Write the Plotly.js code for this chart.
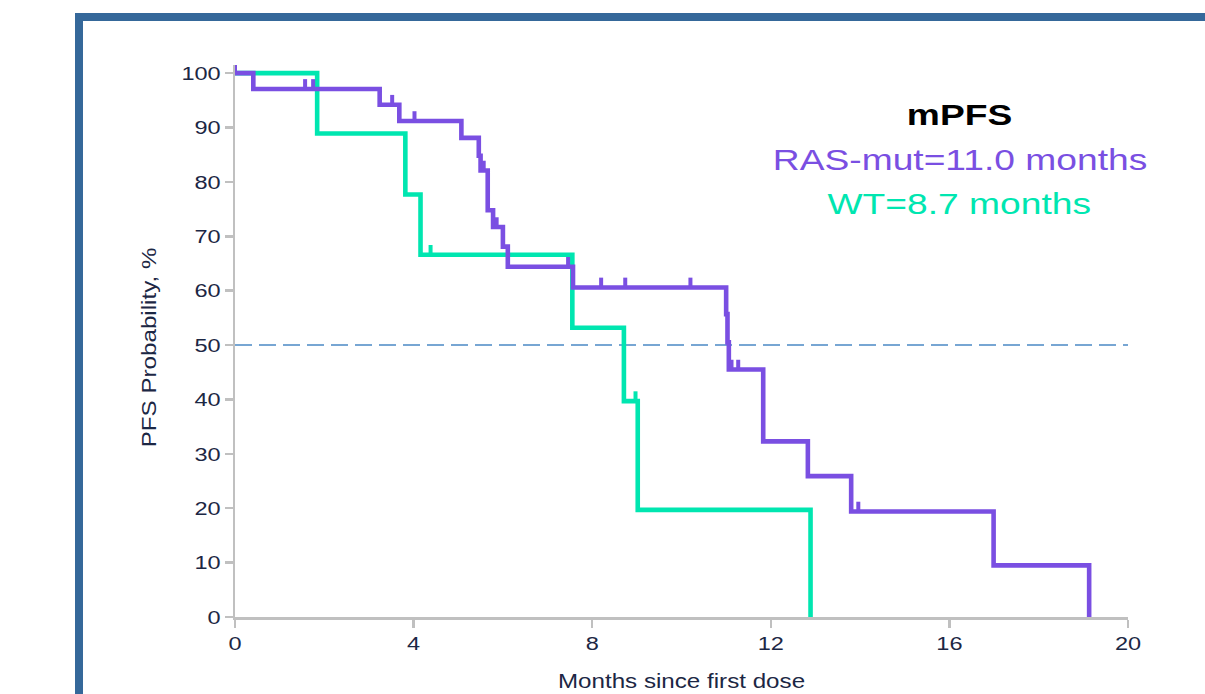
<!DOCTYPE html>
<html>
<head>
<meta charset="utf-8">
<script src="https://cdn.plot.ly/plotly-3.0.1.min.js"></script>
<style>
html,body{margin:0;padding:0;background:#fff;overflow:hidden}
#chart{width:1205px;height:694px}
</style>
</head>
<body>
<div id="chart"></div>
<script>
// ---- data ----
const rasTimes  = [0.41, 3.24, 3.68, 5.07, 5.46, 5.50, 5.66, 5.78, 6.00, 6.11, 7.57, 11.00, 11.03, 11.06, 11.83, 12.83, 13.80, 16.99, 19.13];
const rasSurv   = [97.1, 94.2, 91.2, 88.1, 84.8, 82.1, 74.8, 71.7, 68.1, 64.4, 60.6, 55.7, 50.5, 45.5, 32.3, 25.9, 19.4, 9.5, 0];
const rasCensor = [0, 1.57, 1.75, 3.52, 4.02, 5.57, 5.86, 7.46, 8.20, 8.74, 10.20, 11.12, 11.27, 13.96];

const wtTimes  = [1.84, 3.815, 4.155, 7.555, 8.71, 9.02, 12.89];
const wtSurv   = [88.9, 77.7, 66.6, 53.2, 39.7, 19.7, 0];
const wtCensor = [4.38, 8.97];

const xTickVals = [0, 4, 8, 12, 16, 20];
const yTickVals = [0, 10, 20, 30, 40, 50, 60, 70, 80, 90, 100];
const medianLevel = 50;

const legendTitle = 'mPFS';
const rasLabel = 'RAS-mut=11.0 months';
const wtLabel = 'WT=8.7 months';
const xTitle = 'Months since first dose';
const yTitle = 'PFS Probability, %';

// ---- styling ----
const PURPLE = '#7a4fe2';
const GREEN = '#00e6b0';
const AXIS = '#c0c0c0';
const TEXT = '#1c2744';
const FRAME = '#35689a';
const FONT = '"Liberation Sans", Arial, Helvetica, sans-serif';
const STRETCH = 1.24;
const CENSOR_H = 1.8;

function stepTrace(times, surv, color) {
  return {
    type: 'scatter', mode: 'lines',
    x: [0].concat(times), y: [100].concat(surv),
    line: {shape: 'hv', color: color, width: 4.6},
    hoverinfo: 'skip', showlegend: false
  };
}
function survAt(times, surv, t) {
  let s = 100;
  for (let i = 0; i < times.length; i++) { if (times[i] <= t) s = surv[i]; }
  return s;
}
function censorTrace(cens, times, surv, color) {
  const x = [], y = [];
  cens.forEach(c => {
    const s = survAt(times, surv, c);
    x.push(c, c, null); y.push(s, s + CENSOR_H, null);
  });
  return {
    type: 'scatter', mode: 'lines', x: x, y: y,
    line: {color: color, width: 4}, hoverinfo: 'skip', showlegend: false
  };
}

const traces = [
  stepTrace(wtTimes, wtSurv, GREEN),
  censorTrace(wtCensor, wtTimes, wtSurv, GREEN),
  stepTrace(rasTimes, rasSurv, PURPLE),
  censorTrace(rasCensor, rasTimes, rasSurv, PURPLE)
];

// frame (paper coordinates derived from the pixel layout)
const L = 235, R = 1128, T = 65, B = 617;
const px = v => (v - L) / (R - L);
const py = v => (B - v) / (B - T);

const layout = {
  width: 1205, height: 694,
  margin: {l: L, r: 1205 - R, t: T, b: 694 - B},
  paper_bgcolor: '#ffffff', plot_bgcolor: '#ffffff',
  font: {family: FONT, color: TEXT},
  showlegend: false,
  xaxis: {
    range: [0, 20], tickvals: xTickVals, ticktext: xTickVals.map(String),
    ticks: 'outside', ticklen: 8, tickwidth: 2.5, tickcolor: AXIS,
    showline: true, linecolor: AXIS, linewidth: 2.5,
    showgrid: false, zeroline: false,
    tickfont: {size: 19, color: TEXT, family: FONT},
    title: {text: xTitle, font: {size: 19.5, color: TEXT, family: FONT}, standoff: 21}
  },
  yaxis: {
    range: [0, 101.5], tickvals: yTickVals, ticktext: yTickVals.map(String),
    ticks: 'outside', ticklen: 8, tickwidth: 2.5, tickcolor: AXIS,
    showline: true, linecolor: AXIS, linewidth: 2.5,
    showgrid: false, zeroline: false,
    tickfont: {size: 19, color: TEXT, family: FONT}
  },
  shapes: [
    {type: 'line', xref: 'x', yref: 'y', x0: 0, x1: 20, y0: medianLevel, y1: medianLevel,
     line: {color: '#77a6d3', width: 2, dash: '17px,7px'}, layer: 'below'},
    {type: 'rect', xref: 'paper', yref: 'paper', x0: px(75), x1: px(83), y0: py(710), y1: py(13),
     fillcolor: FRAME, line: {width: 0}, layer: 'below'},
    {type: 'rect', xref: 'paper', yref: 'paper', x0: px(75), x1: px(1215), y0: py(21), y1: py(13),
     fillcolor: FRAME, line: {width: 0}, layer: 'below'}
  ],
  annotations: [
    {xref: 'paper', yref: 'paper', x: px(149), y: py(348), xanchor: 'center', yanchor: 'middle',
     textangle: -90, text: yTitle, showarrow: false, font: {size: 19.5, color: TEXT, family: FONT}},
    {xref: 'paper', yref: 'paper', x: px(959), y: py(115), xanchor: 'center', yanchor: 'middle',
     text: '<b>' + legendTitle + '</b>', showarrow: false, font: {size: 30, color: '#000000', family: FONT}},
    {xref: 'paper', yref: 'paper', x: px(960), y: py(159), xanchor: 'center', yanchor: 'middle',
     text: rasLabel, showarrow: false, font: {size: 30, color: PURPLE, family: FONT}},
    {xref: 'paper', yref: 'paper', x: px(959), y: py(203), xanchor: 'center', yanchor: 'middle',
     text: wtLabel, showarrow: false, font: {size: 30, color: GREEN, family: FONT}}
  ]
};

const gd = document.getElementById('chart');
Plotly.newPlot(gd, traces, layout, {staticPlot: true, displayModeBar: false, responsive: false}).then(() => {
  // the reference text is horizontally stretched; widen each text around its anchor
  gd.querySelectorAll('text').forEach(el => {
    const x = parseFloat(el.getAttribute('x')) || 0;
    const tr = el.getAttribute('transform') || '';
    el.setAttribute('transform', (tr + ' translate(' + x + ',0) scale(' + STRETCH + ',1) translate(' + (-x) + ',0)').trim());
  });
});
</script>
</body>
</html>
